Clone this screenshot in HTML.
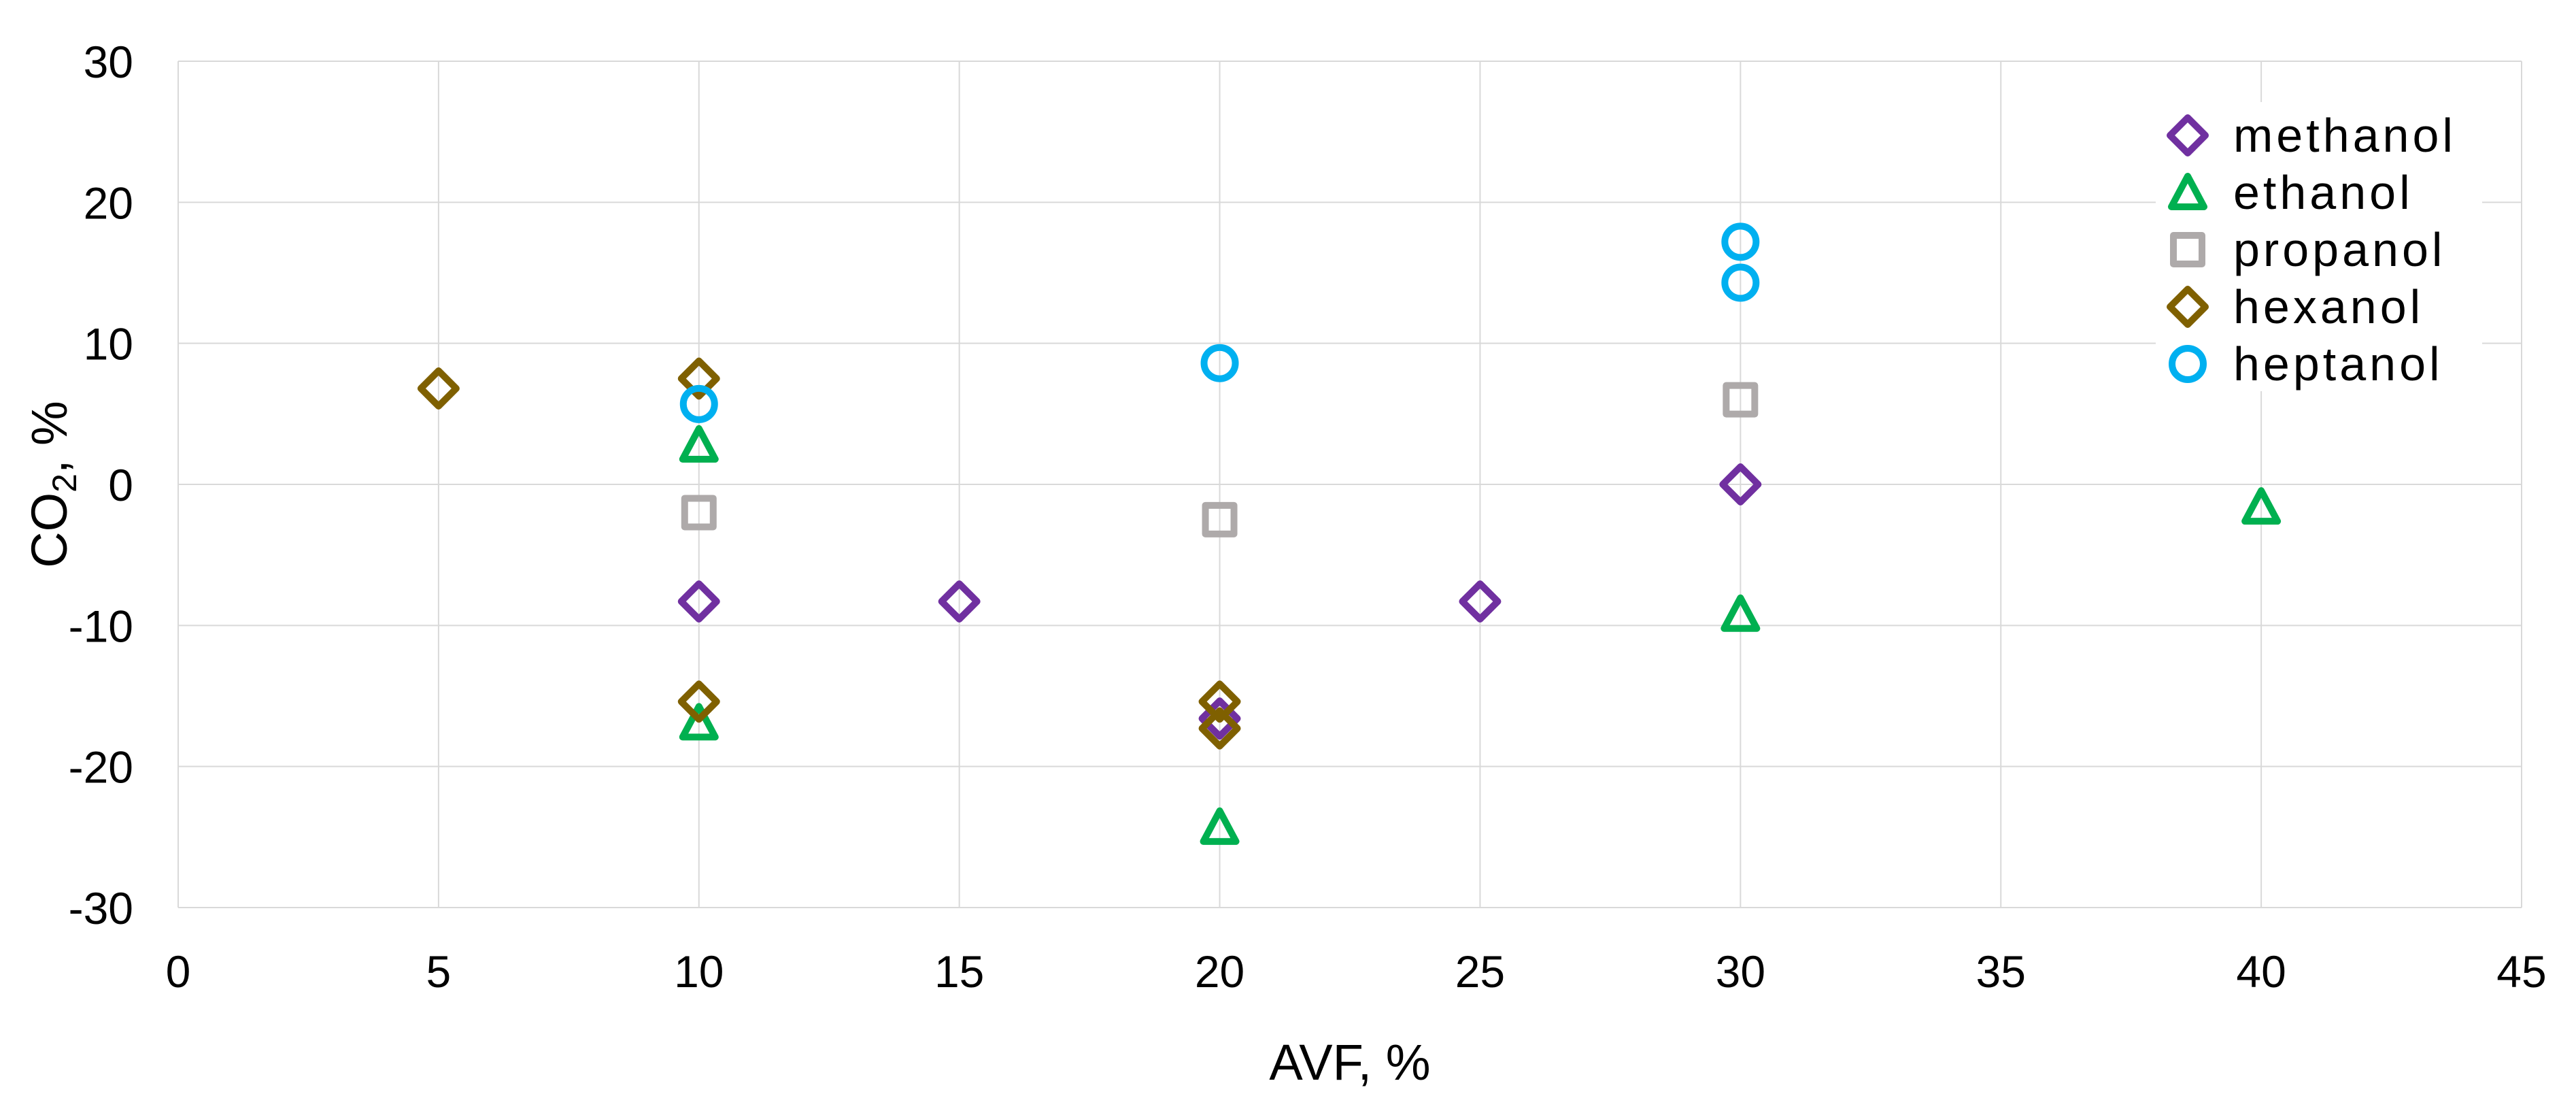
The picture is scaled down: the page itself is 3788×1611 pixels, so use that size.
<!DOCTYPE html>
<html><head><meta charset="utf-8"><style>
html,body{margin:0;padding:0;background:#fff;}
svg{display:block;font-family:"Liberation Sans",sans-serif;}
</style></head><body>
<svg id="chart" width="3788" height="1611" viewBox="0 0 3788 1611" xmlns="http://www.w3.org/2000/svg">
<g id="grid"></g>
<g id="yticks"></g>
<g id="xticks"></g>
<text x="1985" y="1587" font-size="74" text-anchor="middle" fill="#000">AVF, %</text>
<text transform="translate(98,712) rotate(-90)" font-size="74" text-anchor="middle" fill="#000">CO<tspan font-size="50" dy="14">2</tspan><tspan dy="-14">, %</tspan></text>
<g id="marks"></g>
<g id="legend"></g>
</svg>
<script>
const xTicks = [0,5,10,15,20,25,30,35,40,45];
const yTicks = [-30,-20,-10,0,10,20,30];
const seriesNames = ["methanol","ethanol","propanol","hexanol","heptanol"];
const methanolX = [10,15,25,30,20];
const methanolY = [-8.3,-8.3,-8.3,0,-16.6];
const ethanolX = [10,10,20,30,40];
const ethanolY = [2.8,-16.9,-24.3,-9.2,-1.6];
const propanolX = [10,20,30];
const propanolY = [-2.0,-2.5,6.0];
const hexanolX = [5,10,10,20,20];
const hexanolY = [6.8,7.5,-15.4,-15.4,-17.3];
const heptanolX = [10,20,30,30];
const heptanolY = [5.7,8.6,17.2,14.3];

const NS="http://www.w3.org/2000/svg";
const L=262,R=3708,T=90,B=1334;
function sx(v){return L+(v-0)/(45-0)*(R-L);}
function sy(v){return B-(v+30)/60*(B-T);}
function mk(tag,attrs,parent){const e=document.createElementNS(NS,tag);for(const k in attrs)e.setAttribute(k,attrs[k]);parent.appendChild(e);return e;}
const grid=document.getElementById('grid');
yTicks.forEach(v=>{const l=mk('line',{x1:L,x2:R,y1:sy(v),y2:sy(v),stroke:'#d9d9d9','stroke-width':2},grid);

});
xTicks.forEach(v=>{const l=mk('line',{x1:sx(v),x2:sx(v),y1:T,y2:B,stroke:'#d9d9d9','stroke-width':2},grid);

});
const yt=document.getElementById('yticks');
yTicks.forEach(v=>{const t=mk('text',{x:196,y:sy(v)+24,'font-size':66,'text-anchor':'end',fill:'#000'},yt);t.textContent=v;

});
const xt=document.getElementById('xticks');
xTicks.forEach(v=>{const t=mk('text',{x:sx(v),y:1451,'font-size':66,'text-anchor':'middle',fill:'#000'},xt);t.textContent=v;

});
const colors={methanol:'#7030a0',ethanol:'#00b050',propanol:'#aeaaaa',hexanol:'#7f6000',heptanol:'#00b0f0'};
const shapes={methanol:'diamond',ethanol:'triangle',propanol:'square',hexanol:'diamond',heptanol:'circle'};
function marker(shape,cx,cy,col,parent){
  const a={fill:'none',stroke:col,'stroke-width':10,'stroke-linejoin':'round'};
  if(shape==='diamond'){a.points=`${cx-26},${cy} ${cx},${cy-26} ${cx+26},${cy} ${cx},${cy+26}`;return mk('polygon',a,parent);}
  if(shape==='triangle'){a.points=`${cx-24},${cy+21} ${cx},${cy-24} ${cx+24},${cy+21}`;return mk('polygon',a,parent);}
  if(shape==='square'){a.x=cx-21;a.y=cy-21;a.width=42;a.height=42;return mk('rect',a,parent);}
  a.cx=cx;a.cy=cy;a.r=23;return mk('circle',a,parent);
}
const marks=document.getElementById('marks');
const data={methanol:[methanolX,methanolY],ethanol:[ethanolX,ethanolY],propanol:[propanolX,propanolY],hexanol:[hexanolX,hexanolY],heptanol:[heptanolX,heptanolY]};
seriesNames.forEach(n=>{const g=mk('g',{},marks);


const [xs,ys]=data[n];xs.forEach((x,i)=>{const m=marker(shapes[n],sx(x),sy(ys[i]),colors[n],g);

});});
const lg=document.getElementById('legend');
mk('rect',{x:3170,y:150,width:480,height:425,fill:'#fff'},lg);
seriesNames.forEach((n,i)=>{const cy=199+i*84;const g=mk('g',{},lg);


marker(shapes[n],3217,cy,colors[n],g);
const t=mk('text',{x:3284,y:cy+24,'font-size':70,'letter-spacing':5,fill:'#000'},g);t.textContent=n;});
</script>
</body></html>
